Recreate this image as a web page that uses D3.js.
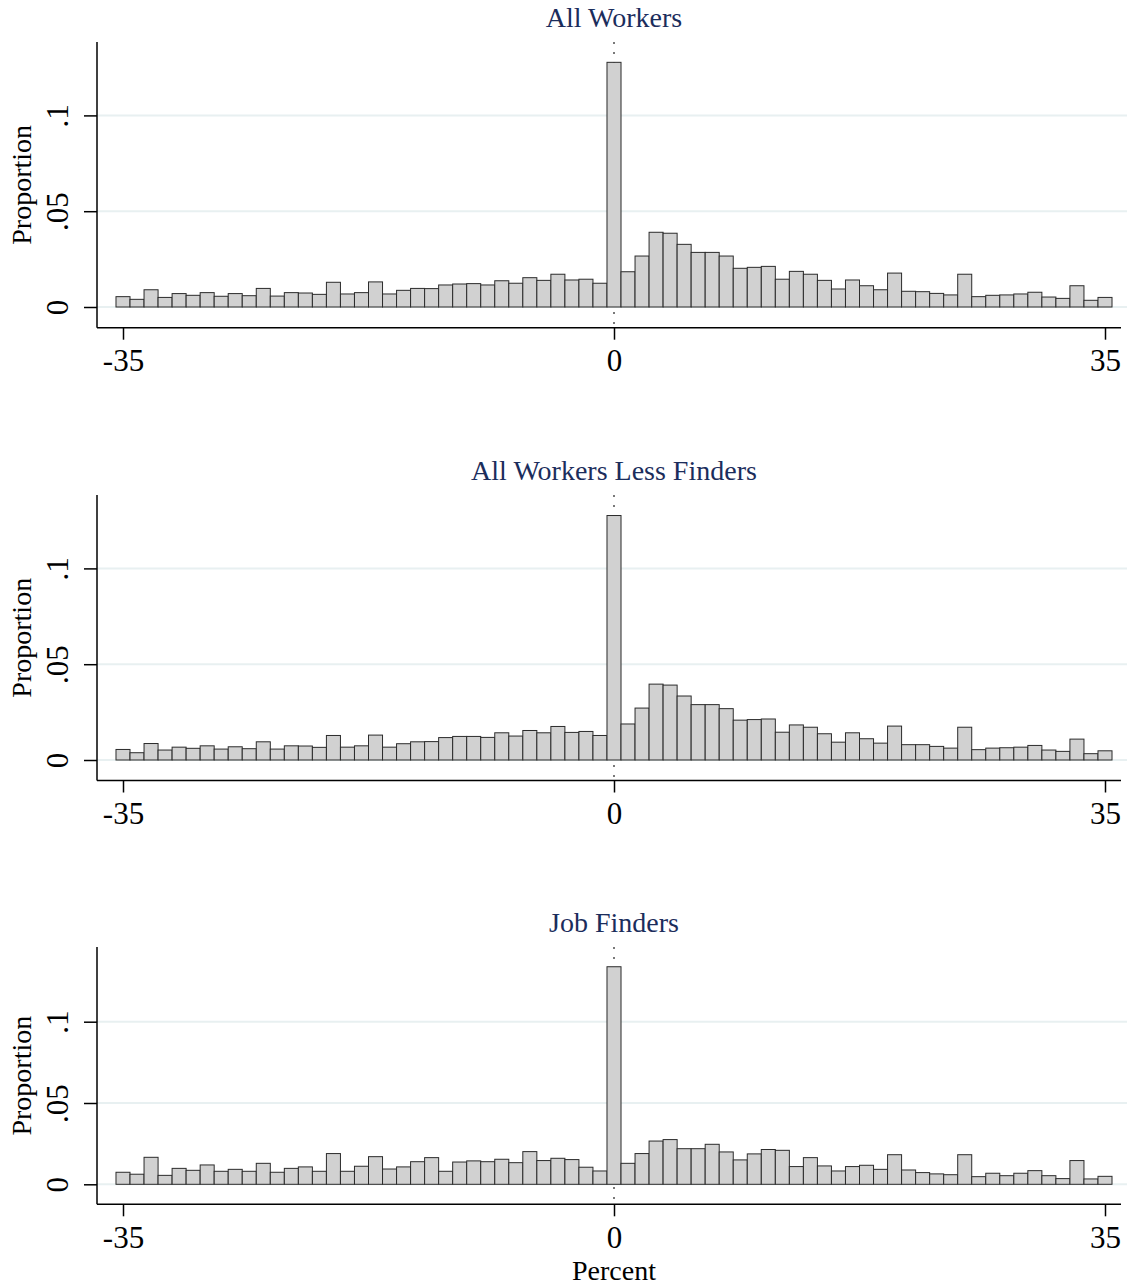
<!DOCTYPE html>
<html>
<head>
<meta charset="utf-8">
<script src="https://cdn.jsdelivr.net/npm/d3@7"></script>
<style>
  body { margin: 0; background: #ffffff; }
  svg { display: block; font-family: "Liberation Serif", "Times New Roman", serif; }
</style>
</head>
<body>
<svg id="drawing_region"></svg>
<script>
// bins are 1 percent wide, centred on the integers -35 .. 35
const bins = d3.range(-35, 36);

const titles = ["All Workers", "All Workers Less Finders", "Job Finders"];

const allWorkers = [
  0.0054,0.0040,0.0090,0.0050,0.0070,0.0061,0.0075,0.0056,0.0070,0.0059,0.0097,0.0057,
  0.0075,0.0073,0.0066,0.0129,0.0068,0.0075,0.0131,0.0068,0.0087,0.0097,0.0096,
  0.0115,0.0120,0.0122,0.0115,0.0137,0.0124,0.0153,0.0139,0.0171,0.0141,0.0145,0.0124,
  0.1277,
  0.0184,0.0266,0.0390,0.0385,0.0327,0.0285,0.0285,0.0266,0.0202,0.0207,
  0.0212,0.0145,0.0186,0.0171,0.0139,0.0094,0.0141,0.0111,0.0090,0.0177,0.0082,0.0080,
  0.0071,0.0063,0.0171,0.0054,0.0061,0.0063,0.0068,0.0077,0.0052,0.0045,0.0111,0.0035,0.0050
];

const lessFinders = [
  0.0055,0.0038,0.0086,0.0052,0.0067,0.0061,0.0074,0.0057,0.0069,0.0059,0.0095,0.0057,
  0.0074,0.0073,0.0066,0.0128,0.0067,0.0074,0.0130,0.0067,0.0085,0.0095,0.0096,
  0.0117,0.0123,0.0123,0.0118,0.0142,0.0125,0.0154,0.0142,0.0175,0.0144,0.0149,0.0128,
  0.1276,
  0.0188,0.0271,0.0396,0.0391,0.0334,0.0289,0.0289,0.0268,0.0208,0.0211,
  0.0214,0.0145,0.0183,0.0171,0.0137,0.0093,0.0142,0.0111,0.0088,0.0177,0.0080,0.0080,
  0.0071,0.0062,0.0171,0.0054,0.0062,0.0064,0.0067,0.0076,0.0052,0.0045,0.0109,0.0033,0.0048
];

const jobFinders = [
  0.0074,0.0062,0.0166,0.0055,0.0098,0.0086,0.0119,0.0080,0.0092,0.0080,0.0129,0.0074,
  0.0098,0.0107,0.0080,0.0189,0.0080,0.0111,0.0170,0.0094,0.0107,0.0139,0.0164,
  0.0080,0.0137,0.0144,0.0139,0.0154,0.0133,0.0201,0.0146,0.0160,0.0152,0.0105,0.0082,
  0.1338,
  0.0129,0.0189,0.0266,0.0275,0.0219,0.0219,0.0246,0.0199,0.0150,0.0187,
  0.0214,0.0209,0.0109,0.0164,0.0113,0.0082,0.0109,0.0117,0.0092,0.0182,0.0088,0.0072,
  0.0064,0.0059,0.0182,0.0047,0.0068,0.0053,0.0068,0.0084,0.0053,0.0035,0.0146,0.0033,0.0049
];

const xTicks = [-35, 0, 35];
const xTickLabels = ["-35", "0", "35"];
const yTicks = [0, 0.05, 0.1];
const yTickLabels = ["0", ".05", ".1"];

const xTitle = "Percent";
const yTitle = "Proportion";

class Histogram {

    constructor( config, data ) {
        this.config = config;
        this.data = data;
        this.init();
    }

    init() {
        let self = this;

        self.chart = d3.select( self.config.parent ).append('g');

        self.xscale = d3.scaleLinear()
            .domain([-35, 35])
            .range([123, 1105]);

        // zero line and the .05 line give the vertical scale of each panel
        self.yscale = d3.scaleLinear()
            .domain([0, 0.05])
            .range([self.config.base, self.config.base - self.config.per05]);
    }

    update() {
        let self = this;
        self.render();
    }

    render() {
        let self = this;
        const c = self.config;
        const x = self.xscale, y = self.yscale;

        // grid lines
        self.chart.selectAll('.grid')
            .data(yTicks)
            .enter()
            .append('line')
            .attr('x1', c.left)
            .attr('x2', 1127)
            .attr('y1', d => y(d))
            .attr('y2', d => y(d))
            .attr('stroke', '#e8f0f1')
            .attr('stroke-width', 2);

        // dotted reference line at zero
        self.chart.append('line')
            .attr('x1', x(0)).attr('x2', x(0))
            .attr('y1', c.top).attr('y2', c.axisY)
            .attr('stroke', '#222')
            .attr('stroke-width', 1.2)
            .attr('stroke-dasharray', '2,8');

        // bars
        self.chart.selectAll('.bar')
            .data(self.data)
            .enter()
            .append('rect')
            .attr('x', (d, i) => x(bins[i] - 0.5))
            .attr('width', (d, i) => x(bins[i] + 0.5) - x(bins[i] - 0.5))
            .attr('y', d => y(d))
            .attr('height', d => y(0) - y(d))
            .attr('fill', '#d1d1d1')
            .attr('stroke', '#2b2b2b')
            .attr('stroke-width', 1);

        // y axis
        const yaxis = d3.axisLeft(y)
            .tickValues(yTicks)
            .tickFormat((d, i) => yTickLabels[i])
            .tickSizeInner(13)
            .tickSizeOuter(0);

        const yg = self.chart.append('g')
            .attr('transform', `translate(${c.left},0)`)
            .call(yaxis);
        yg.select('.domain').remove();
        yg.selectAll('.tick line').attr('stroke', '#000').attr('stroke-width', 1.5);
        yg.selectAll('.tick text')
            .attr('x', 0).attr('dy', null)
            .attr('transform', `translate(${68 - c.left},0) rotate(-90)`)
            .attr('text-anchor', 'middle')
            .attr('fill', '#000')
            .style('font-size', '31px')
            .style('font-family', '"Liberation Serif", serif');

        self.chart.append('line')
            .attr('x1', c.left).attr('x2', c.left)
            .attr('y1', c.top).attr('y2', c.axisY)
            .attr('stroke', '#000').attr('stroke-width', 1.5);

        // x axis
        const xaxis = d3.axisBottom(x)
            .tickValues(xTicks)
            .tickFormat((d, i) => xTickLabels[i])
            .tickSizeInner(12)
            .tickSizeOuter(0);

        const xg = self.chart.append('g')
            .attr('transform', `translate(0,${c.axisY})`)
            .call(xaxis);
        xg.select('.domain').remove();
        xg.selectAll('.tick line').attr('stroke', '#000').attr('stroke-width', 1.5);
        xg.selectAll('.tick text')
            .attr('y', 43.5).attr('dy', null)
            .attr('fill', '#000')
            .style('font-size', '31px')
            .style('font-family', '"Liberation Serif", serif');

        self.chart.append('line')
            .attr('x1', c.left).attr('x2', 1121)
            .attr('y1', c.axisY).attr('y2', c.axisY)
            .attr('stroke', '#000').attr('stroke-width', 1.5);

        // titles
        self.chart.append('text')
            .attr('x', 614)
            .attr('y', c.titleY)
            .attr('text-anchor', 'middle')
            .attr('fill', '#1b2d5c')
            .style('font-size', '28px')
            .text(c.title);

        self.chart.append('text')
            .attr('transform', `translate(31,${(c.top + c.axisY) / 2}) rotate(-90)`)
            .attr('text-anchor', 'middle')
            .attr('fill', '#000')
            .style('font-size', '28px')
            .text(yTitle);

        if (c.showXTitle) {
            self.chart.append('text')
                .attr('x', 614)
                .attr('y', 1280)
                .attr('text-anchor', 'middle')
                .attr('fill', '#000')
                .style('font-size', '28px')
                .text(xTitle);
        }
    }
}

d3.select('#drawing_region')
    .attr('width', 1127)
    .attr('height', 1287);

const panels = [
    { title: titles[0], data: allWorkers,  top: 42,  base: 307,    per05: 95.8, axisY: 327.7,  titleY: 27 },
    { title: titles[1], data: lessFinders, top: 495, base: 760,    per05: 95.8, axisY: 780.5,  titleY: 480 },
    { title: titles[2], data: jobFinders,  top: 947, base: 1184.3, per05: 81.3, axisY: 1204.3, titleY: 932, showXTitle: true }
];

panels.forEach( p => {
    const config = Object.assign({ parent: '#drawing_region', left: 97 }, p);
    const hist = new Histogram( config, p.data );
    hist.update();
});
</script>
</body>
</html>
